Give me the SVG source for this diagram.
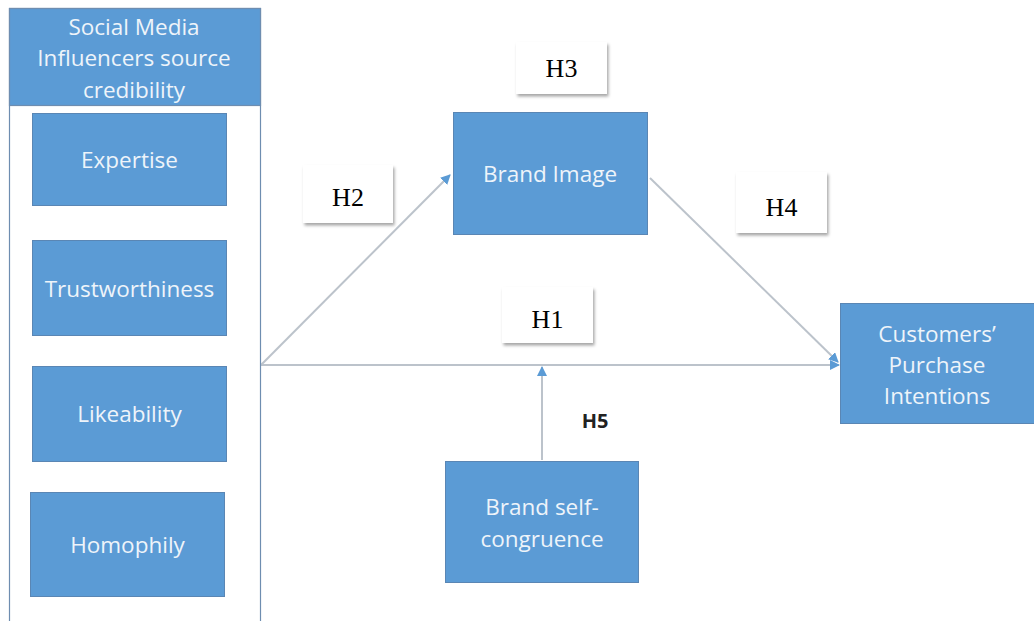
<svg xmlns="http://www.w3.org/2000/svg" width="1034" height="621" viewBox="0 0 1034 621">
<defs>
<style>
.node{fill:#5B9BD5;stroke:#5A86B4;stroke-width:1}
.lbl{font-family:"Open Sans","Liberation Sans",sans-serif;font-size:22.5px;fill:#EEF4FA;text-anchor:middle}
.hbox{fill:#FFFFFF;filter:url(#sh)}
.h{font-family:"Liberation Serif","Times New Roman",serif;font-size:26px;fill:#000;text-anchor:middle}
.conn{stroke:#BCC3CB;stroke-width:2;fill:none}
</style>
<filter id="sh" x="-20%" y="-20%" width="150%" height="160%">
<feDropShadow dx="1.5" dy="2.5" stdDeviation="1.8" flood-color="#000" flood-opacity="0.35"/>
</filter>
<marker id="arr" viewBox="0 0 10 10" refX="9" refY="5" markerWidth="5" markerHeight="5" orient="auto">
<path d="M0,0 L10,5 L0,10 z" fill="#5B9BD5"/>
</marker>
</defs>
<rect width="1034" height="621" fill="#FFFFFF"/>
<g id="connectors">
<line class="conn" x1="261" y1="365" x2="450" y2="175" marker-end="url(#arr)"/>
<line class="conn" x1="261" y1="365" x2="839" y2="365" marker-end="url(#arr)"/>
<line class="conn" x1="650" y1="178" x2="838" y2="362" marker-end="url(#arr)"/>
<line class="conn" x1="542" y1="460" x2="542" y2="367" marker-end="url(#arr)"/>
</g>
<g id="smi">
<rect x="9.5" y="8.5" width="251" height="620" fill="#FFFFFF" stroke="#6E8DB0" stroke-width="1.2"/>
<rect x="9.5" y="8.5" width="251" height="97" fill="#5B9BD5" stroke="#6E8DB0" stroke-width="1.2"/>
<text class="lbl" x="134" y="35">Social Media</text>
<text class="lbl" x="134" y="66">Influencers source</text>
<text class="lbl" x="134" y="98">credibility</text>
</g>
<g id="expertise">
<rect class="node" x="32.5" y="113.5" width="194" height="92"/>
<text class="lbl" x="129.5" y="168">Expertise</text>
</g>
<g id="trust">
<rect class="node" x="32.5" y="240.5" width="194" height="95"/>
<text class="lbl" x="129.5" y="297">Trustworthiness</text>
</g>
<g id="like">
<rect class="node" x="32.5" y="366.5" width="194" height="95"/>
<text class="lbl" x="129.5" y="422">Likeability</text>
</g>
<g id="homophily">
<rect class="node" x="30.5" y="492.5" width="194" height="104"/>
<text class="lbl" x="127.5" y="553">Homophily</text>
</g>
<g id="brandimage">
<rect class="node" x="453.5" y="112.5" width="194" height="122"/>
<text class="lbl" x="550" y="182">Brand Image</text>
</g>
<g id="cpi">
<rect class="node" x="840.5" y="303.5" width="194" height="120"/>
<text class="lbl" x="937" y="342">Customers’</text>
<text class="lbl" x="937" y="373">Purchase</text>
<text class="lbl" x="937" y="404">Intentions</text>
</g>
<g id="bsc">
<rect class="node" x="445.5" y="461.5" width="193" height="121"/>
<text class="lbl" x="542" y="515">Brand self-</text>
<text class="lbl" x="542" y="547">congruence</text>
</g>
<g id="h3"><rect class="hbox" x="516" y="42" width="91" height="52"/><text class="h" x="561.5" y="77">H3</text></g>
<g id="h2"><rect class="hbox" x="303" y="165" width="90" height="58"/><text class="h" x="348" y="206">H2</text></g>
<g id="h4"><rect class="hbox" x="736" y="172" width="91" height="61"/><text class="h" x="781.5" y="216">H4</text></g>
<g id="h1"><rect class="hbox" x="502" y="287" width="91" height="56"/><text class="h" x="547.5" y="328">H1</text></g>
<g id="h5"><text x="595" y="428" font-family="'Open Sans','Liberation Sans',sans-serif" font-size="20" font-weight="bold" fill="#222" text-anchor="middle">H5</text></g>
</svg>
